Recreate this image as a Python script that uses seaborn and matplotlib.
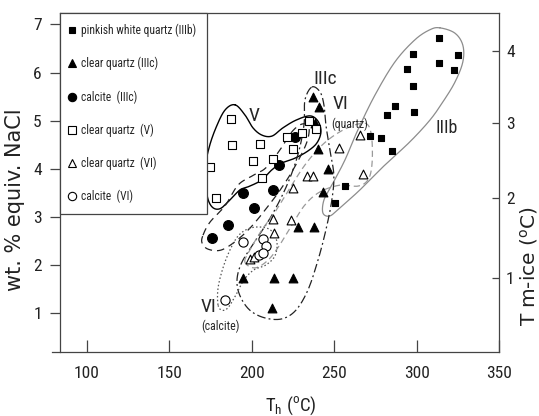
import numpy as np
import pandas as pd
import matplotlib
matplotlib.use("Agg")
import matplotlib.pyplot as plt
import seaborn as sns
from matplotlib import font_manager as fm
from matplotlib.lines import Line2D

# ---------------- data (Th in degC, salinity in wt.% NaCl eq.) ----------------
iiib_th = [313.4, 313.4, 324.9, 322.5, 297.6, 294.0, 297.6, 286.7, 281.9, 298.2,
           271.6, 278.2, 284.9, 256.4, 250.4]
iiib_wt = [6.72, 6.20, 6.37, 6.05, 6.39, 6.07, 5.72, 5.31, 5.12, 5.18,
           4.68, 4.64, 4.37, 3.64, 3.29]

iiic_q_th = [237.0, 240.7, 238.2, 240.1, 246.1, 243.1, 227.9, 237.6, 194.6, 213.4, 224.9, 212.2]
iiic_q_wt = [5.49, 5.28, 4.95, 4.41, 4.00, 3.52, 2.79, 2.79, 1.73, 1.73, 1.73, 1.11]

iiic_c_th = [226.1, 216.4, 194.6, 212.8, 201.3, 185.5, 175.8]
iiic_c_wt = [4.66, 4.08, 3.50, 3.56, 3.19, 2.83, 2.56]

v_q_th = [187.3, 187.9, 204.8, 174.6, 200.7, 212.8, 206.1, 178.2, 221.3, 224.9, 230.4, 234.6, 238.8]
v_q_wt = [5.04, 4.49, 4.52, 4.04, 4.16, 4.20, 3.81, 3.39, 4.66, 4.41, 4.75, 4.99, 4.83]

vi_q_th = [265.5, 252.8, 267.3, 233.4, 237.0, 224.9, 212.8, 223.7, 213.4, 198.8, 201.3]
vi_q_wt = [4.70, 4.43, 3.89, 3.85, 3.85, 3.60, 2.96, 2.94, 2.67, 2.12, 2.17]

vi_c_th = [194.6, 206.7, 208.5, 204.2, 206.7, 183.7]
vi_c_wt = [2.48, 2.54, 2.40, 2.21, 2.25, 1.27]

legend_labels = ["pinkish white quartz (IIIb)", "clear quartz (IIIc)", "calcite  (IIIc)",
                 "clear quartz  (V)", "clear quartz  (VI)", "calcite  (VI)"]

x_ticks = [100, 150, 200, 250, 300, 350]
y_ticks = [1, 2, 3, 4, 5, 6, 7]
tm_ticks = [1, 2, 3, 4]

# field outlines (closed, data units)
env_v_x = [189.8, 195.8, 200.7, 206.1, 212.2, 218.8, 226.7, 235.2, 240.1, 241.9, 239.5, 234.0,
           226.1, 218.2, 212.2, 206.1, 198.8, 192.8, 186.7, 180.7, 175.8, 172.8, 171.6, 174.0,
           178.2, 183.7]
env_v_y = [5.33, 5.12, 4.85, 4.70, 4.68, 4.85, 5.01, 5.10, 4.99, 4.77, 4.54, 4.37,
           4.22, 4.12, 3.98, 3.77, 3.64, 3.56, 3.35, 3.17, 3.21, 3.46, 3.98, 4.43,
           4.85, 5.22]

env_iiib_x = [314.0, 323.1, 327.9, 327.9, 323.1, 315.8, 307.9, 295.8, 280.7, 265.5, 253.4,
              247.3, 243.1, 243.7, 248.5, 256.4, 264.3, 274.6, 286.7, 298.8, 307.9]
env_iiib_y = [6.93, 6.82, 6.57, 6.22, 5.80, 5.39, 5.01, 4.56, 4.08, 3.56, 3.19,
              3.02, 3.08, 3.35, 3.66, 4.18, 4.81, 5.53, 6.22, 6.68, 6.89]

env_iiic_x = [236.4, 241.3, 243.7, 244.9, 247.3, 249.7, 248.5, 244.9, 240.1, 234.0, 226.7,
              218.2, 207.9, 198.8, 192.8, 191.0, 194.0, 202.5, 212.2, 221.3, 227.9, 231.6, 232.2]
env_iiic_y = [5.70, 5.60, 5.33, 4.91, 4.39, 3.87, 3.35, 2.73, 2.10, 1.48, 1.06,
              0.88, 0.90, 1.06, 1.36, 1.69, 2.06, 2.52, 3.04, 3.66, 4.29, 4.91, 5.43]

env_cal3_x = [170.4, 174.6, 183.7, 191.6, 200.1, 208.5, 217.0, 224.3, 230.4, 234.6, 233.4,
              227.3, 218.8, 209.1, 199.5, 190.4, 181.3, 173.4, 169.8]
env_cal3_y = [2.62, 2.89, 3.23, 3.66, 3.85, 4.02, 4.39, 4.77, 4.93, 4.87, 4.56,
              4.12, 3.64, 3.19, 2.79, 2.50, 2.31, 2.33, 2.46]

env_viq_x = [195.8, 198.8, 206.1, 214.0, 223.1, 232.2, 242.5, 253.4, 264.3, 270.4, 272.8,
             272.8, 270.4, 264.3, 253.4, 241.3, 232.2, 224.3, 217.0, 209.8, 201.9]
env_viq_y = [2.06, 2.31, 2.73, 3.10, 3.60, 4.08, 4.49, 4.77, 4.93, 4.91, 4.60,
             4.08, 3.77, 3.64, 3.66, 3.52, 3.25, 2.83, 2.42, 2.10, 1.94]

env_vic_x = [179.5, 179.5, 182.5, 186.7, 191.6, 197.6, 204.8, 211.6, 215.2, 214.0, 208.5,
             201.3, 195.2, 190.4, 185.5, 181.9]
env_vic_y = [1.17, 1.52, 1.94, 2.31, 2.60, 2.75, 2.79, 2.72, 2.48, 2.19, 2.00,
             1.90, 1.69, 1.38, 1.11, 1.06]

# ---------------- style ----------------
sns.set_theme(style="ticks")
plt.rcParams['font.family'] = ['DejaVu Sans']

names = {f.name for f in fm.fontManager.ttflist}
cond_fp = None
for cand in ['Liberation Sans Narrow', 'Roboto Condensed', 'Open Sans Condensed']:
    if cand in names:
        cond_fp = dict(family=cand)
        break
if cond_fp is None:
    if any(f.name == 'DejaVu Sans' and 'condensed' in str(f.stretch) for f in fm.fontManager.ttflist):
        cond_fp = dict(family='DejaVu Sans', stretch='condensed')
    else:
        cond_fp = dict(family='DejaVu Sans')


def fp(size):
    return fm.FontProperties(size=size, **cond_fp)


def smooth_closed(xs, ys, n=24):
    P = np.column_stack([xs, ys]).astype(float)
    N = len(P)
    t = np.linspace(0, 1, n, endpoint=False)[:, None]
    segs = []
    for i in range(N):
        p0, p1, p2, p3 = P[i - 1], P[i], P[(i + 1) % N], P[(i + 2) % N]
        seg = 0.5 * (2 * p1 + (-p0 + p2) * t + (2 * p0 - 5 * p1 + 4 * p2 - p3) * t ** 2
                     + (-p0 + 3 * p1 - 3 * p2 + p3) * t ** 3)
        segs.append(seg)
    out = np.vstack(segs + [segs[0][:1]])
    return out[:, 0], out[:, 1]


fig = plt.figure(figsize=(5.39, 4.16), dpi=100)
ax = fig.add_axes([0.1104, 0.1531, 0.8159, 0.8164])
ax.set_facecolor('white')

# outlines
outlines = [
    (env_iiib_x, env_iiib_y, dict(color='#8c8c8c', lw=0.9, ls='-')),
    (env_v_x, env_v_y, dict(color='black', lw=1.0, ls='-')),
    (env_iiic_x, env_iiic_y, dict(color='#222222', lw=0.9, dashes=(7, 2.5, 1.5, 2.5))),
    (env_cal3_x, env_cal3_y, dict(color='#222222', lw=0.9, dashes=(6, 4))),
    (env_viq_x, env_viq_y, dict(color='#9a9a9a', lw=0.9, dashes=(5, 3))),
    (env_vic_x, env_vic_y, dict(color='#555555', lw=0.9, dashes=(1.2, 1.8))),
]
for ex, ey, st in outlines:
    sx, sy = smooth_closed(ex, ey)
    ax.plot(sx, sy, zorder=2, **st)

# points
series = [
    (iiib_th, iiib_wt, 's', 'black', 22),
    (iiic_q_th, iiic_q_wt, '^', 'black', 40),
    (iiic_c_th, iiic_c_wt, 'o', 'black', 50),
    (v_q_th, v_q_wt, 's', 'white', 36),
    (vi_q_th, vi_q_wt, '^', 'white', 40),
    (vi_c_th, vi_c_wt, 'o', 'white', 44),
]
for xs, ys, mk, fc, s in series:
    df = pd.DataFrame({'Th': xs, 'wt': ys})
    sns.scatterplot(data=df, x='Th', y='wt', marker=mk, s=s, color=fc,
                    edgecolor='black', linewidth=0.8, ax=ax, legend=False, zorder=3)

# field labels
ax.text(201.3, 5.10, "V", fontproperties=fp(14), ha='center', va='center', zorder=4)
ax.text(244.6, 5.87, "IIIc", fontproperties=fp(14), ha='center', va='center', zorder=4)
ax.text(254.0, 5.35, "VI", fontproperties=fp(14), ha='center', va='center', zorder=4)
ax.text(259.1, 4.93, "(quartz)", fontproperties=fp(8.5), ha='center', va='center', zorder=4)
ax.text(318.2, 4.85, "IIIb", fontproperties=fp(13), ha='center', va='center', zorder=4)
ax.text(174.0, 1.13, "VI", fontproperties=fp(14), ha='center', va='center', zorder=4)
ax.text(180.7, 0.73, "(calcite)", fontproperties=fp(8.5), ha='center', va='center', zorder=4)

# axes
ax.set_xlim(83.4, 350)
ax.set_ylim(0.185, 7.245)
ax.set_xticks(x_ticks)
ax.set_yticks(y_ticks)
for sp in ax.spines.values():
    sp.set_color('#444444')
    sp.set_linewidth(0.9)
ax.spines['right'].set_visible(False)
ax.spines['bottom'].set_bounds(78.6, 350)
ax.tick_params(axis='x', direction='in', length=8.6, width=0.9, color='#444444', pad=10,
               top=False)
ax.tick_params(axis='y', direction='out', length=7.2, width=0.9, color='#444444', pad=5.5,
               right=False)
for lab in ax.get_xticklabels() + ax.get_yticklabels():
    lab.set_fontproperties(fp(12.5))
    lab.set_color('#222222')

ax.set_xlabel(r"T$_\mathregular{h}$ ($^\mathregular{o}$C)", fontproperties=fp(13.5), color='#222222')
ax.xaxis.set_label_coords(0.526, -0.125)
ax.set_ylabel("wt. % equiv. NaCl", fontsize=15, color='#222222')
ax.yaxis.set_label_coords(-0.078, 0.45)

# secondary axis: Tm-ice (Bodnar 1993 conversion)
tm_grid = np.linspace(-2, 8, 801)
wt_grid = 1.78 * tm_grid - 0.0442 * tm_grid ** 2 + 0.000557 * tm_grid ** 3


def wt_to_tm(w):
    return np.interp(w, wt_grid, tm_grid)


def tm_to_wt(t):
    return np.interp(t, tm_grid, wt_grid)


sec = ax.secondary_yaxis('right', functions=(wt_to_tm, tm_to_wt))
sec.set_yticks(tm_ticks)
sec.tick_params(direction='in', length=5, width=0.9, color='#444444', pad=4.8)
sec.spines['right'].set_color('#444444')
sec.spines['right'].set_linewidth(0.9)
for lab in sec.get_yticklabels():
    lab.set_fontproperties(fp(12.5))
    lab.set_color('#222222')
sec.set_ylabel("T m-ice ($^\mathregular{o}$C)", fontsize=14.5, color='#222222')
sec.yaxis.set_label_coords(1.0425, 0.254, transform=ax.transAxes)

# legend
handles = [
    Line2D([], [], marker='s', ls='none', mfc='black', mec='black', ms=4.8, mew=0.8),
    Line2D([], [], marker='^', ls='none', mfc='black', mec='black', ms=5.5, mew=0.8),
    Line2D([], [], marker='o', ls='none', mfc='black', mec='black', ms=6, mew=0.8),
    Line2D([], [], marker='s', ls='none', mfc='white', mec='black', ms=5.5, mew=0.8),
    Line2D([], [], marker='^', ls='none', mfc='white', mec='black', ms=6, mew=0.8),
    Line2D([], [], marker='o', ls='none', mfc='white', mec='black', ms=6, mew=0.8),
]
leg = ax.legend(handles, legend_labels, loc='upper left', bbox_to_anchor=(0, 1),
                borderaxespad=0, frameon=True, fancybox=False, prop=fp(8.3),
                handlelength=0.3, handletextpad=0.6, borderpad=0.95, labelspacing=1.72)
leg.get_frame().set_edgecolor('#444444')
leg.get_frame().set_linewidth(0.9)
leg.get_frame().set_facecolor('white')
leg.get_frame().set_alpha(1)
leg.set_zorder(5)

fig.savefig("out.png", dpi=100, facecolor='white')
